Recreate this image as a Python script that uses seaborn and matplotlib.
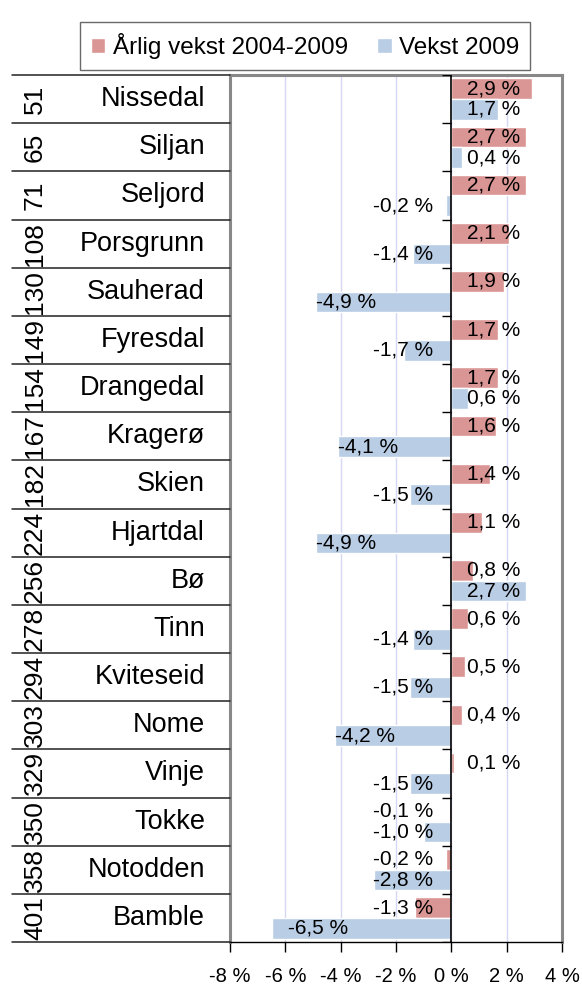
import pandas as pd
import matplotlib.pyplot as plt
import matplotlib.transforms as mtransforms
from matplotlib.lines import Line2D
from matplotlib.ticker import FuncFormatter, MultipleLocator
import seaborn as sns

# Data
kommuner = ["Nissedal", "Siljan", "Seljord", "Porsgrunn", "Sauherad", "Fyresdal",
            "Drangedal", "Kragerø", "Skien", "Hjartdal", "Bø", "Tinn", "Kviteseid",
            "Nome", "Vinje", "Tokke", "Notodden", "Bamble"]
rang = [51, 65, 71, 108, 130, 149, 154, 167, 182, 224, 256, 278, 294, 303, 329, 350, 358, 401]
aarlig = [2.9, 2.7, 2.7, 2.1, 1.9, 1.7, 1.7, 1.6, 1.4, 1.1, 0.8, 0.6, 0.5, 0.4, 0.1, -0.1, -0.2, -1.3]
vekst_2009 = [1.7, 0.4, -0.2, -1.4, -4.9, -1.7, 0.6, -4.1, -1.5, -4.9, 2.7, -1.4, -1.5, -4.2, -1.5, -1.0, -2.8, -6.5]
serier = ["Årlig vekst 2004-2009", "Vekst 2009"]
farger = ["#DA9694", "#B9CDE5"]

df = pd.concat([
    pd.DataFrame({"Kommune": kommuner, "Verdi": aarlig, "Serie": serier[0]}),
    pd.DataFrame({"Kommune": kommuner, "Verdi": vekst_2009, "Serie": serier[1]}),
])

sns.set_theme(style="white")
plt.rcParams["font.family"] = ["Liberation Sans", "DejaVu Sans"]
plt.rcParams["text.color"] = "black"
plt.rcParams["xtick.color"] = "black"
plt.rcParams["xtick.labelcolor"] = "black"

fig = plt.figure(figsize=(5.82, 9.86), dpi=100)
ax = fig.add_axes([230 / 582, 1 - 942 / 986, (562 - 230) / 582, (942 - 75) / 986])

sns.barplot(data=df, y="Kommune", x="Verdi", hue="Serie", order=kommuner,
            hue_order=serier, palette=farger, orient="h", width=0.86, gap=0,
            saturation=1, legend=True, ax=ax)

ax.set_xlim(-8, 4)
ax.set_ylim(len(kommuner) - 0.5, -0.5)
ax.xaxis.set_major_locator(MultipleLocator(2))
ax.xaxis.set_major_formatter(FuncFormatter(lambda v, p: f"{int(round(v))} %"))
ax.set_xlabel("")
ax.set_ylabel("")
ax.set_yticks([])
ax.tick_params(axis="x", direction="out", length=7, width=1, color="black",
               labelcolor="black", labelsize=14.5, pad=11, bottom=True)
ax.grid(axis="x", color="#D6D6F5", lw=1)
ax.set_axisbelow(True)

for side in ["left", "top", "right"]:
    ax.spines[side].set_color("#888888")
    ax.spines[side].set_linewidth(2.2)
ax.spines["bottom"].set_color("black")
ax.spines["bottom"].set_linewidth(1)

# Nullinje med små tikker
ax.axvline(0, color="black", lw=1.2, zorder=3)
grenser = [i + 0.5 for i in range(-1, len(kommuner))]
ax.hlines(grenser, -0.35, 0, color="black", lw=1, zorder=3)

# Verdietiketter
for container, verdier in zip(ax.containers, [aarlig, vekst_2009]):
    for bar, v in zip(container, verdier):
        yc = bar.get_y() + bar.get_height() / 2
        tekst = f"{v:.1f} %".replace(".", ",")
        if v >= 0:
            ax.text(0.55, yc, tekst, ha="left", va="center", fontsize=15, zorder=4)
        elif v > -3.5:
            ax.text(-0.65, yc, tekst, ha="right", va="center", fontsize=15, zorder=4)
        else:
            ax.text(max(v, -5.9), yc, tekst, ha="left", va="center", fontsize=15, zorder=4)

# Tabell til venstre
trans = mtransforms.blended_transform_factory(fig.transFigure, ax.transData)
for i, (navn, r) in enumerate(zip(kommuner, rang)):
    ax.text(205 / 582, i, navn, transform=trans, ha="right", va="center",
            fontsize=19.5, clip_on=False)
    ax.text(35 / 582, i, str(r), transform=trans, ha="center", va="center",
            rotation=90, fontsize=19, clip_on=False)
for g in grenser:
    fig.add_artist(Line2D([12 / 582, 230 / 582], [g, g], transform=trans,
                          color="#222222", lw=1.1))

# Forklaring
handles, labels = ax.get_legend_handles_labels()
ax.legend_.remove()
leg = fig.legend(handles, labels, loc="upper center", bbox_to_anchor=(305 / 582, 1 - 10 / 986),
                 ncol=2, fontsize=17.5, frameon=True, fancybox=False, edgecolor="#444444",
                 handlelength=0.6, handleheight=0.6, handletextpad=0.3, columnspacing=1.2,
                 borderpad=0.45)
leg.get_frame().set_linewidth(1)

fig.savefig("out.png", dpi=100)
